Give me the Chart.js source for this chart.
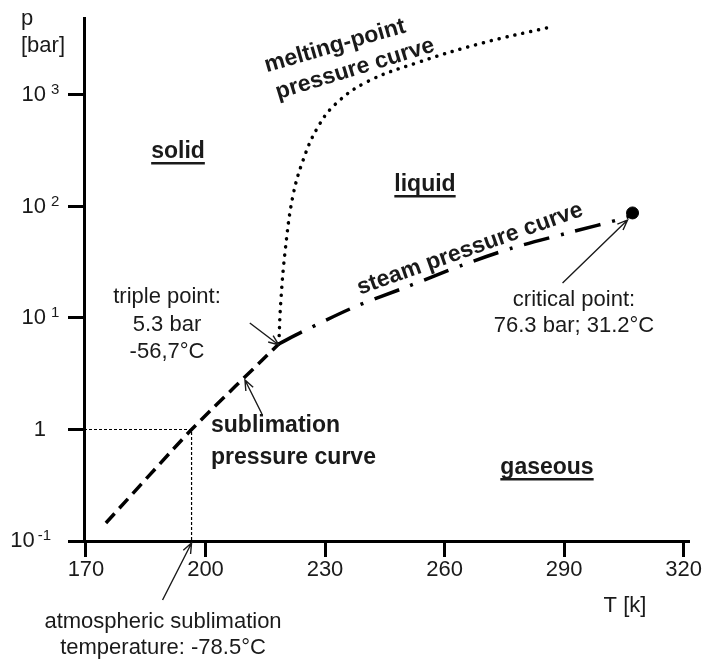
<!DOCTYPE html>
<html>
<head>
<meta charset="utf-8">
<script src="https://cdn.jsdelivr.net/npm/chart.js@4"></script>
<style>
  html, body { margin: 0; padding: 0; background: #fff; }
  #wrap { width: 702px; height: 661px; }
</style>
</head>
<body>
<div id="wrap"><canvas id="phase"></canvas></div>
<script>
// Axis ticks
let xTicks = [170, 200, 230, 260, 290, 320]
let yTicks = [0.1, 1, 10, 100, 1000]

// Sublimation pressure curve (T [K], p [bar])
let sublimT = [175.0, 196.5, 218.4]
let sublimP = [0.145, 1.0, 5.85]

// Steam pressure curve, triple point -> critical point
let steamT = [218.4, 224.2, 237.5, 250.5, 264.6, 277.1, 290.9, 305.9, 307.2]
let steamP = [5.85, 7.5, 12.6, 19.0, 29.9, 42.5, 57.8, 80.5, 87.5]

// Melting-point pressure curve
let meltT = [218.4, 218.9, 220.0, 221.9, 224.5, 228.0, 232.5, 240.5, 253.0, 269.6, 285.6]
let meltP = [5.85, 14, 40, 122, 260, 500, 820, 1310, 1940, 2930, 3990]

// Special points
let triplePoint = [218.4, 5.85]
let criticalPoint = [307.2, 87.5]
let atmSublimation = [196.5, 1]

let font = '"Liberation Sans", Arial, sans-serif'
let ink = '#1a1a1a'

const toPts = (xs, ys) => xs.map((x, i) => ({ x: x, y: ys[i] }))

// Text labels (pixel placement)
let texts = [
  { lines: ['p', '[bar]'], x: 21, y: 19, lh: 27, align: 'left' },
  { lines: ['triple point:', '5.3 bar', '-56,7°C'], x: 167, y: 297, lh: 27.5 },
  { lines: ['critical point:', '76.3 bar; 31.2°C'], x: 574, y: 300, lh: 26 },
  { lines: ['atmospheric sublimation', 'temperature: -78.5°C'], x: 163, y: 622, lh: 26 },
  { lines: ['T [k]'], x: 625, y: 606 },
  { lines: ['solid'], x: 178, y: 152, bold: true, underline: true },
  { lines: ['liquid'], x: 425, y: 185, bold: true, underline: true },
  { lines: ['gaseous'], x: 547, y: 468, bold: true, underline: true },
  { lines: ['sublimation', 'pressure curve'], x: 211, y: 426, lh: 32, bold: true, align: 'left' },
  { lines: ['melting-point'], x: 335, y: 46, bold: true, rot: -16 },
  { lines: ['pressure curve'], x: 355, y: 69, bold: true, rot: -17 },
  { lines: ['steam pressure curve'], x: 470, y: 249, bold: true, rot: -19.5 },
]

// Arrows: tip at a data point (+ tip offset), tail as pixel offset from the tip
let arrows = [
  { at: triplePoint, tip: [0, 1], tail: [-29, -22] },
  { at: [209.4, 2.78], tip: [2, 0], tail: [17, 34] },
  { at: [atmSublimation[0], 0.1], tip: [0, 2], tail: [-29, 57] },
  { at: criticalPoint, tip: [-5, 7], tail: [-65, 63] },
]

function drawText(ctx, t) {
  ctx.save()
  ctx.font = (t.bold ? 'bold 23px ' : '22px ') + font
  ctx.fillStyle = ink
  ctx.textAlign = t.align || 'center'
  ctx.textBaseline = 'middle'
  ctx.translate(t.x, t.y)
  ctx.rotate((t.rot || 0) * Math.PI / 180)
  t.lines.forEach((line, i) => {
    let y = i * (t.lh || 0)
    ctx.fillText(line, 0, y)
    if (t.underline) {
      let w = ctx.measureText(line).width
      let x0 = ctx.textAlign === 'center' ? -w / 2 : 0
      ctx.fillRect(x0, y + 10, w, 2.5)
    }
  })
  ctx.restore()
}

function drawArrow(ctx, x1, y1, x0, y0) {
  let ang = Math.atan2(y1 - y0, x1 - x0)
  let head = 11
  ctx.save()
  ctx.strokeStyle = ink
  ctx.lineWidth = 1.4
  ctx.beginPath()
  ctx.moveTo(x0, y0)
  ctx.lineTo(x1, y1)
  ctx.moveTo(x1 - head * Math.cos(ang - 0.38), y1 - head * Math.sin(ang - 0.38))
  ctx.lineTo(x1, y1)
  ctx.lineTo(x1 - head * Math.cos(ang + 0.38), y1 - head * Math.sin(ang + 0.38))
  ctx.stroke()
  ctx.restore()
}

// Draws y tick labels as powers of ten, the text labels and arrows
let annotate = {
  id: 'annotate',
  afterDraw(chart) {
    let ctx = chart.ctx
    let xs = chart.scales.x
    let ys = chart.scales.y

    ctx.save()
    ctx.fillStyle = ink
    ctx.textBaseline = 'middle'
    yTicks.forEach((v) => {
      let py = ys.getPixelForValue(v)
      let exp = Math.round(Math.log10(v))
      if (exp === 0) {
        ctx.font = '22px ' + font
        ctx.textAlign = 'right'
        ctx.fillText('1', 46, py)
        return
      }
      let sup = String(exp)
      ctx.font = '15px ' + font
      let supRight
      if (exp > 0) {
        ctx.textAlign = 'left'
        ctx.fillText(sup, 51, py - 5)
        supRight = 48
      } else {
        ctx.textAlign = 'right'
        ctx.fillText(sup, 51, py - 5)
        supRight = 51 - ctx.measureText(sup).width - 1
      }
      ctx.font = '22px ' + font
      ctx.textAlign = 'right'
      ctx.fillText('10', supRight - 2, py)
    })
    ctx.restore()

    texts.forEach((t) => drawText(ctx, t))

    arrows.forEach((a) => {
      let tx = xs.getPixelForValue(a.at[0]) + a.tip[0]
      let ty = ys.getPixelForValue(a.at[1]) + a.tip[1]
      drawArrow(ctx, tx, ty, tx + a.tail[0], ty + a.tail[1])
    })
  }
}

new Chart(document.getElementById('phase'), {
  type: 'line',
  data: {
    datasets: [
      {
        // guide lines for 1 bar
        data: [
          { x: 169.5, y: atmSublimation[1] },
          { x: atmSublimation[0], y: atmSublimation[1] },
          { x: atmSublimation[0], y: 0.1 },
        ],
        borderColor: '#000', borderWidth: 1.2, borderDash: [3, 2], pointRadius: 0, tension: 0,
      },
      {
        data: toPts(sublimT, sublimP),
        borderColor: '#000', borderWidth: 3.5, borderDash: [13, 7], pointRadius: 0,
        tension: 0.15,
      },
      {
        data: toPts(steamT, steamP),
        borderColor: '#000', borderWidth: 3.5, borderDash: [26, 12, 3, 12], pointRadius: 0,
        tension: 0.3,
      },
      {
        data: toPts(meltT, meltP),
        borderColor: '#000', borderWidth: 3.5, borderDash: [0.1, 8], borderCapStyle: 'round',
        pointRadius: 0, tension: 0.4,
      },
      {
        data: [{ x: criticalPoint[0], y: criticalPoint[1] }],
        showLine: false, pointRadius: 6, pointBackgroundColor: '#000', pointBorderColor: '#000',
      },
    ]
  },
  options: {
    responsive: true,
    maintainAspectRatio: false,
    animation: false,
    events: [],
    layout: { padding: { top: 18, right: 12, left: 0, bottom: 0 } },
    plugins: {
      legend: { display: false },
      tooltip: { enabled: false }
    },
    scales: {
      x: {
        type: 'linear',
        min: 169.5,
        max: 321.5,
        afterBuildTicks: (s) => { s.ticks = xTicks.map((v) => ({ value: v })) },
        afterFit: (s) => { s.height = 120 },
        grid: { drawOnChartArea: false, tickLength: 16, tickWidth: 3, tickColor: '#000' },
        border: { color: '#000', width: 3 },
        ticks: { font: { family: font, size: 22 }, color: ink, padding: 0, maxRotation: 0 }
      },
      y: {
        type: 'logarithmic',
        min: 0.1,
        max: 4900,
        afterBuildTicks: (s) => { s.ticks = yTicks.map((v) => ({ value: v })) },
        afterFit: (s) => { s.width = 84 },
        grid: { drawOnChartArea: false, tickLength: 16, tickWidth: 3, tickColor: '#000' },
        border: { color: '#000', width: 3 },
        ticks: { callback: () => '', padding: 0 }
      }
    }
  },
  plugins: [annotate]
})
</script>
</body>
</html>
